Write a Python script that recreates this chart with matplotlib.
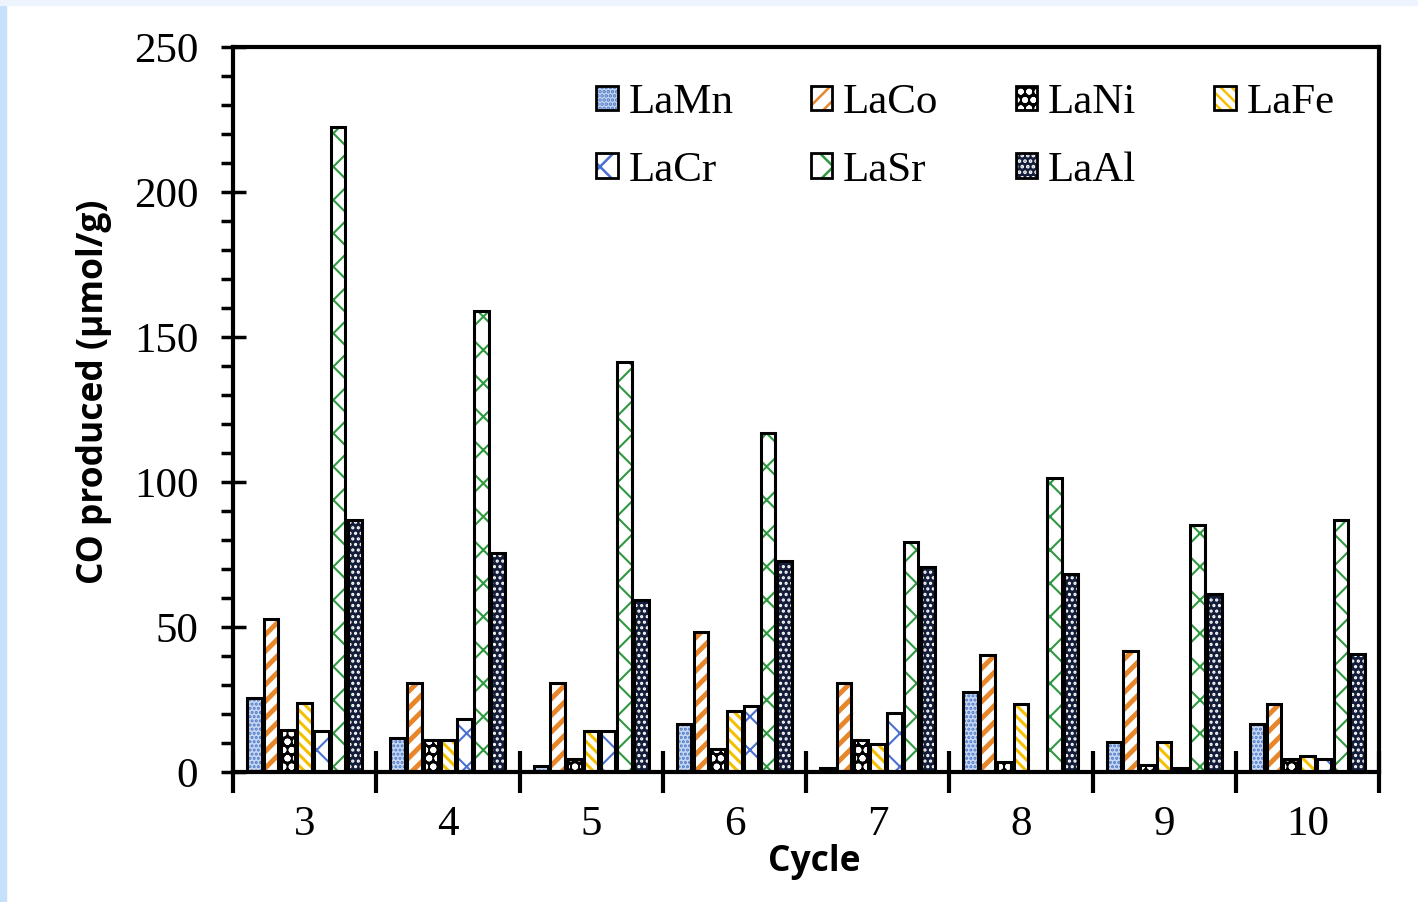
import matplotlib.pyplot as plt
import numpy as np
from matplotlib.patches import Patch, Rectangle
from matplotlib.legend_handler import HandlerTuple

cycles = ['3', '4', '5', '6', '7', '8', '9', '10']
materials = ['LaMn', 'LaCo', 'LaNi', 'LaFe', 'LaCr', 'LaSr', 'LaAl']

la_mn = [25.5, 11.7, 2.0, 16.6, 1.5, 27.6, 10.3, 16.6]
la_co = [52.8, 30.7, 30.7, 48.3, 30.7, 40.3, 41.7, 23.4]
la_ni = [14.5, 11.0, 4.5, 8.0, 11.0, 3.5, 2.4, 4.5]
la_fe = [23.8, 11.0, 14.0, 21.0, 9.5, 23.4, 10.3, 5.5]
la_cr = [14.1, 18.3, 14.0, 22.8, 20.3, 0.0, 1.4, 4.5]
la_sr = [222.4, 159.0, 141.4, 117.0, 79.3, 101.4, 85.2, 86.9]
la_al = [86.9, 75.5, 59.3, 72.8, 70.7, 68.3, 61.4, 40.7]

series = [la_mn, la_co, la_ni, la_fe, la_cr, la_sr, la_al]

# (face colour, hatch colour, hatch, hatch line width)
styles = [
    ('#c9d8f2', '#4a78c8', '....', 1.5),
    ('white', '#e8862a', '//', 3.5),
    ('black', 'white', 'oo', 2.0),
    ('white', '#f5c000', '\\\\\\', 2.2),
    ('white', '#4a6fd0', 'x', 1.5),
    ('white', '#2e9a40', 'x', 1.5),
    ('#141d3a', 'white', '...', 1.5),
]

has_hlw = hasattr(Patch, 'set_hatch_linewidth')
plt.rcParams['hatch.linewidth'] = 1.8

fig = plt.figure(figsize=(14.18, 9.02), dpi=100)
fig.patches.append(Rectangle((0, 0), 6 / 1418, 1, transform=fig.transFigure,
                             color='#c5e0fb', zorder=-10))
fig.patches.append(Rectangle((0, 1 - 5 / 902), 1, 5 / 902, transform=fig.transFigure,
                             color='#eef4fd', zorder=-10))
ax = fig.add_axes([233 / 1418, 1 - 772 / 902, (1379 - 233) / 1418, (772 - 47) / 902])

x = np.arange(len(cycles))
slot = 0.117
bw = 0.1
handles = []
for i, (vals, name) in enumerate(zip(series, materials)):
    fc, hc, h, hlw = styles[i]
    pos = x + (i - 3) * slot
    bars = ax.bar(pos, vals, bw, color=fc, edgecolor=hc, hatch=h, linewidth=0, zorder=2)
    ax.bar(pos, vals, bw, fill=False, edgecolor='black', linewidth=2.2, zorder=3)
    hp = Patch(facecolor=fc, edgecolor=hc, hatch=h, linewidth=0)
    if has_hlw:
        for b in bars:
            b.set_hatch_linewidth(hlw)
        hp.set_hatch_linewidth(hlw)
    handles.append((hp, Patch(fill=False, edgecolor='black', linewidth=2)))

ax.set_xlim(-0.5, len(cycles) - 0.5)
ax.set_ylim(0, 250)
ax.set_yticks(np.arange(0, 251, 50))
ax.set_yticks(np.arange(0, 251, 10), minor=True)
ax.set_xticks(np.arange(-0.5, len(cycles), 1))
ax.set_xticklabels([])
ax.set_xticks(x, minor=True)
ax.set_xticklabels(cycles, minor=True)

for s in ax.spines.values():
    s.set_linewidth(3)
ax.tick_params(axis='y', which='major', direction='inout', length=18, width=2.5, pad=16)
ax.tick_params(axis='y', which='minor', direction='out', length=9, width=2.5)
ax.tick_params(axis='x', which='major', direction='inout', length=30, width=3)
ax.tick_params(axis='x', which='minor', length=0, pad=24)
for lab in ax.get_yticklabels() + ax.get_xticklabels(minor=True):
    lab.set_fontfamily('Liberation Serif')
    lab.set_fontsize(31)

ax.set_ylabel('CO produced (µmol/g)', fontsize=25.5, fontweight='bold',
              family='Open Sans', labelpad=16)
ax.yaxis.label.set_y(0.524)
ax.set_xlabel('Cycle', fontsize=25.5, fontweight='bold', family='Open Sans', labelpad=0)
ax.xaxis.label.set_x(0.507)

# legend fills column-wise, so order the entries to read row-wise
order = [0, 4, 1, 5, 2, 6, 3]
leg = ax.legend([handles[k] for k in order], [materials[k] for k in order],
                handler_map={tuple: HandlerTuple(ndivide=1)},
                ncol=4, loc='upper right', bbox_to_anchor=(0.995, 1.003), frameon=False,
                prop={'family': 'Liberation Serif', 'size': 31},
                handlelength=0.5, handleheight=0.5, handletextpad=0.25,
                columnspacing=1.8, labelspacing=0.68)

fig.savefig('out.png', dpi=100)
